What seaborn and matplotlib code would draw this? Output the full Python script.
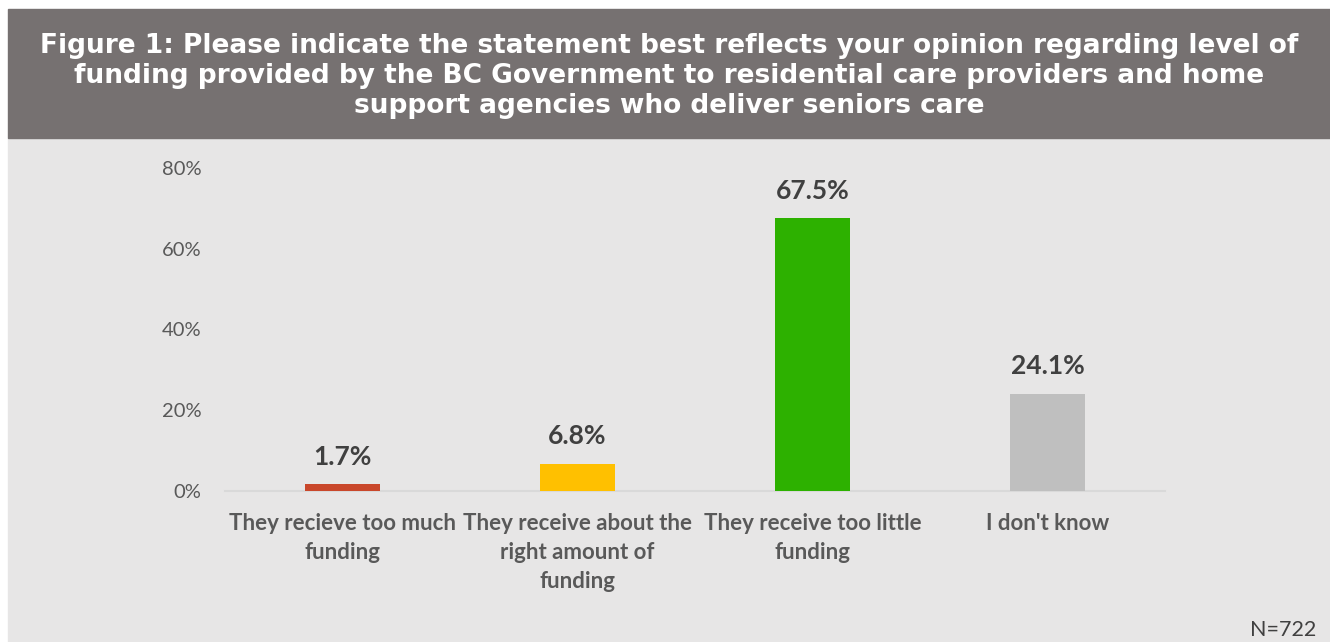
import matplotlib
matplotlib.use("Agg")
import matplotlib.pyplot as plt
import matplotlib.patches as mpatches
from matplotlib.ticker import PercentFormatter
import seaborn as sns
import pandas as pd

# Survey responses
categories = [
    "They recieve too much\nfunding",
    "They receive about the\nright amount of\nfunding",
    "They receive too little\nfunding",
    "I don't know",
]
shares = [1.7, 6.8, 67.5, 24.1]
bar_colors = ["#C9472B", "#FFC000", "#2DB100", "#BFBFBF"]
y_ticks = [0, 20, 40, 60, 80]
title = ("Figure 1: Please indicate the statement best reflects your opinion regarding level of\n"
         "funding provided by the BC Government to residential care providers and home\n"
         "support agencies who deliver seniors care")
sample_note = "N=722"

df = pd.DataFrame({"category": categories, "share": shares})

sns.set_theme(style="white")
plt.rcParams["font.family"] = ["Lato", "DejaVu Sans"]

fig = plt.figure(figsize=(13.3, 6.42), dpi=100)
fig.patch.set_facecolor("white")

# light panel behind the chart and the dark title band
fig.add_artist(mpatches.Rectangle((8 / 1330, 0), 1 - 8 / 1330, 1 - 138 / 642,
                                  transform=fig.transFigure, color="#E7E6E6", zorder=0))
fig.add_artist(mpatches.Rectangle((8 / 1330, 1 - 138 / 642), 1 - 8 / 1330, (138 - 9) / 642,
                                  transform=fig.transFigure, color="#767171", zorder=0))
fig.text(0.5 + 4 / 1330, 1 - 76 / 642, title, ha="center", va="center", color="white",
         fontsize=19, fontweight="bold", family="DejaVu Sans", linespacing=1.2)

ax = fig.add_axes([225 / 1330, 1 - 491 / 642, 940 / 1330, 323 / 642])
ax.set_facecolor("none")

sns.barplot(data=df, x="category", y="share", hue="category", palette=bar_colors,
            width=0.315, dodge=False, legend=False, ax=ax, saturation=1, zorder=3,
            linewidth=0, edgecolor="none")

ax.set_xlim(-0.5, 3.5)
ax.set_ylim(0, 80)
ax.set_yticks(y_ticks)
ax.yaxis.set_major_formatter(PercentFormatter(decimals=0))
ax.tick_params(axis="y", length=0, pad=17, labelsize=14.5, labelcolor="#595959")
ax.tick_params(axis="x", length=0, pad=16, labelsize=16, labelcolor="#595959")
for lbl in ax.get_xticklabels():
    lbl.set_fontweight("bold")
    lbl.set_linespacing(1.45)
    lbl.set_va("top")
ax.set_xlabel("")
ax.set_ylabel("")
for side in ["top", "right", "left"]:
    ax.spines[side].set_visible(False)
ax.spines["bottom"].set_color("#D9D9D9")
ax.spines["bottom"].set_linewidth(1.5)
ax.spines["bottom"].set_zorder(2)

for i, v in enumerate(shares):
    ax.annotate(f"{v:.1f}%", (i, v), xytext=(0, 11), textcoords="offset points",
                ha="center", va="bottom", fontsize=19, fontweight="bold", color="#404040")

fig.text(1 - 14 / 1330, 1 - 630 / 642, sample_note, ha="right", va="center",
         fontsize=15.5, color="#404040")

fig.savefig("out.png", dpi=100, facecolor=fig.get_facecolor())
